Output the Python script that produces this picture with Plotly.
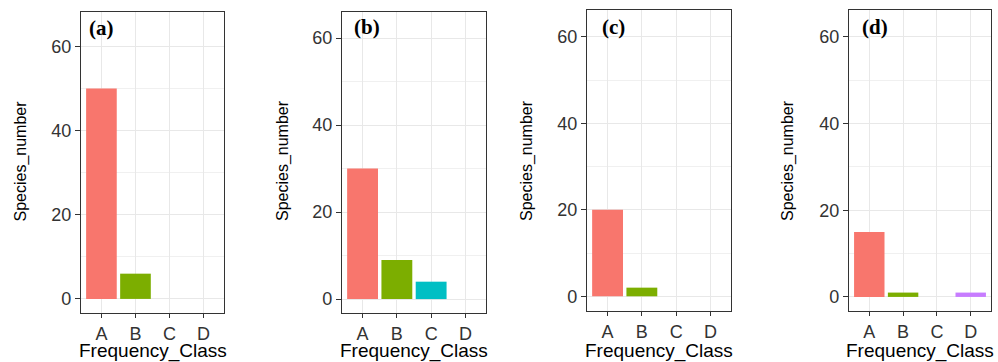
import plotly.graph_objects as go

categories = ["A", "B", "C", "D"]
panel_a = [50, 6, 0, 0]
panel_b = [30, 9, 4, 0]
panel_c = [20, 2, 0, 0]
panel_d = [15, 1, 0, 1]
panel_labels = ["(a)", "(b)", "(c)", "(d)"]
y_ticks = [0, 20, 40, 60]
y_minor = [10, 30, 50]

colors = ["#F8766D", "#7CAE00", "#00BFC4", "#C77CFF"]

W, H = 998, 362
# pixel boxes for panels: (left, right, top, bottom)
boxes = [(81, 224, 12, 313), (342, 486, 12, 313), (587, 731, 10, 311), (849, 991, 10, 311)]
yranges = [[-3.35, 68.2], [-3.2, 66.0], [-3.4, 66.2], [-3.25, 66.2]]
ytitle_x = [20.5, 283, 527, 788]
label_pos = [(101, 28), (367, 27), (613, 27), (874.5, 27)]

series = [panel_a, panel_b, panel_c, panel_d]

fig = go.Figure()
font_family = "Liberation Sans, Arial, sans-serif"

for i, vals in enumerate(series):
    sfx = "" if i == 0 else str(i + 1)
    fig.add_trace(go.Bar(
        x=categories, y=vals, marker=dict(color=colors, line=dict(width=0)),
        width=0.9, xaxis="x" + sfx, yaxis="y" + sfx, showlegend=False,
    ))
    l, r, t, b = boxes[i]
    xd = [l / W, r / W]
    yd = [1 - b / H, 1 - t / H]
    fig.layout["xaxis" + sfx] = dict(
        domain=xd, anchor="y" + sfx, type="category", range=[-0.6, 3.6],
        showgrid=True, gridcolor="#E8E8E8", gridwidth=1.2,
        showline=True, mirror=True, linecolor="#333333", linewidth=1.4,
        ticks="outside", ticklen=4, tickcolor="#333333", tickwidth=1.2,
        tickfont=dict(family=font_family, size=18, color="#333333"),
        zeroline=False, automargin=False, fixedrange=True,
    )
    fig.layout["yaxis" + sfx] = dict(
        domain=yd, anchor="x" + sfx, range=yranges[i],
        tickvals=y_ticks, showgrid=True, gridcolor="#E8E8E8", gridwidth=1.2,
        minor=dict(tickvals=y_minor, showgrid=True, gridcolor="#F0F0F0", gridwidth=0.8, ticks=""),
        showline=True, mirror=True, linecolor="#333333", linewidth=1.4,
        ticks="outside", ticklen=5, tickcolor="#333333", tickwidth=1.2,
        tickfont=dict(family=font_family, size=18, color="#333333"),
        zeroline=False, automargin=False, fixedrange=True,
    )
    # axis titles
    fig.add_annotation(
        x=(l + r) / 2 / W, y=-0.006, xref="paper", yref="paper",
        text="Frequency_Class", showarrow=False, xanchor="center", yanchor="bottom",
        font=dict(family=font_family, size=19, color="#000000"),
    )
    fig.add_annotation(
        x=ytitle_x[i] / W, y=1 - 161 / H, xref="paper", yref="paper",
        text="Species_number", showarrow=False, textangle=-90,
        xanchor="center", yanchor="middle",
        font=dict(family=font_family, size=16, color="#000000"),
    )
    lx, ly = label_pos[i]
    fig.add_annotation(
        x=lx / W, y=1 - ly / H, xref="paper", yref="paper",
        text="<b>" + panel_labels[i] + "</b>", showarrow=False,
        xanchor="center", yanchor="middle",
        font=dict(family="Liberation Serif, Times New Roman, serif", size=21, color="#000000"),
    )

fig.update_layout(
    width=W, height=H, margin=dict(l=0, r=0, t=0, b=0),
    paper_bgcolor="white", plot_bgcolor="white", bargap=0.1,
)

fig.write_html("out.html")
